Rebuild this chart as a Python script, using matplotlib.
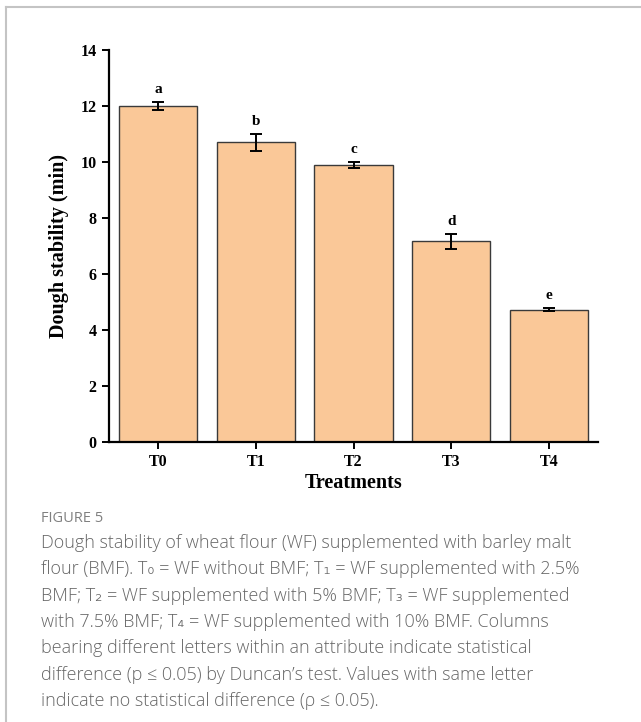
import matplotlib
matplotlib.use("Agg")
import matplotlib.pyplot as plt
from matplotlib.lines import Line2D

categories = ["T0", "T1", "T2", "T3", "T4"]
stability = [12.0, 10.7, 9.9, 7.17, 4.73]
errors = [0.16, 0.31, 0.11, 0.27, 0.06]
letters = ["a", "b", "c", "d", "e"]
yticks = [0, 2, 4, 6, 8, 10, 12, 14]

W, H = 641, 722
fig = plt.figure(figsize=(W / 100, H / 100), dpi=100)

ax = fig.add_axes([109 / W, 1 - 442 / H, (598 - 109) / W, (442 - 50) / H])
x = list(range(len(categories)))
ax.bar(x, stability, width=0.8, color="#FAC898", edgecolor="#3a3a3a", linewidth=1.0, zorder=2)
ax.errorbar(x, stability, yerr=errors, fmt="none", ecolor="black", elinewidth=1.4,
            capsize=4, capthick=1.4, zorder=3)
for xi, v, e, lab in zip(x, stability, errors, letters):
    ax.annotate(lab, (xi, v + e), xytext=(0, 4), textcoords="offset points",
                ha="center", va="bottom", fontsize=11, fontweight="bold",
                family="Liberation Serif")

ax.set_xlim(-0.5, 4.5)
ax.set_ylim(0, 14)
ax.set_yticks(yticks)
ax.set_xticks(x)
ax.set_xticklabels(categories)
for s in ["top", "right"]:
    ax.spines[s].set_visible(False)
for s in ["left", "bottom"]:
    ax.spines[s].set_linewidth(1.6)
ax.tick_params(direction="out", length=5, width=1.4, labelsize=11.5, pad=4)
for lbl in ax.get_xticklabels() + ax.get_yticklabels():
    lbl.set_fontfamily("Liberation Serif")
    lbl.set_fontweight("bold")
ax.set_ylabel("Dough stability (min)", fontsize=14.5, fontweight="bold",
              family="Liberation Serif", labelpad=8)
ax.set_xlabel("Treatments", fontsize=14.5, fontweight="bold",
              family="Liberation Serif", labelpad=2)

# frame lines
fig.add_artist(Line2D([5.5 / W, 5.5 / W], [0, 1 - 6.5 / H], transform=fig.transFigure,
                      color="#c4c4c4", linewidth=1.5))
fig.add_artist(Line2D([5.5 / W, 1], [1 - 6.5 / H, 1 - 6.5 / H], transform=fig.transFigure,
                      color="#c4c4c4", linewidth=1.5))

cap_fam = ["Open Sans", "DejaVu Sans"]
fig.text(41 / W, 1 - 519 / H, "FIGURE 5", fontsize=10.5, color="#808080",
         family=cap_fam, va="center", ha="left")
lines = [
    "Dough stability of wheat flour (WF) supplemented with barley malt",
    "flour (BMF). T\u2080 = WF without BMF; T\u2081 = WF supplemented with 2.5%",
    "BMF; T\u2082 = WF supplemented with 5% BMF; T\u2083 = WF supplemented",
    "with 7.5% BMF; T\u2084 = WF supplemented with 10% BMF. Columns",
    "bearing different letters within an attribute indicate statistical",
    "difference (p \u2264 0.05) by Duncan\u2019s test. Values with same letter",
    "indicate no statistical difference (\u03c1 \u2264 0.05).",
]
y0 = 543
for i, t in enumerate(lines):
    fig.text(41 / W, 1 - (y0 + i * 26.3) / H, t, fontsize=13, color="#666666",
             family=cap_fam, fontweight="light", va="center", ha="left")

fig.savefig("out.png", dpi=100)
